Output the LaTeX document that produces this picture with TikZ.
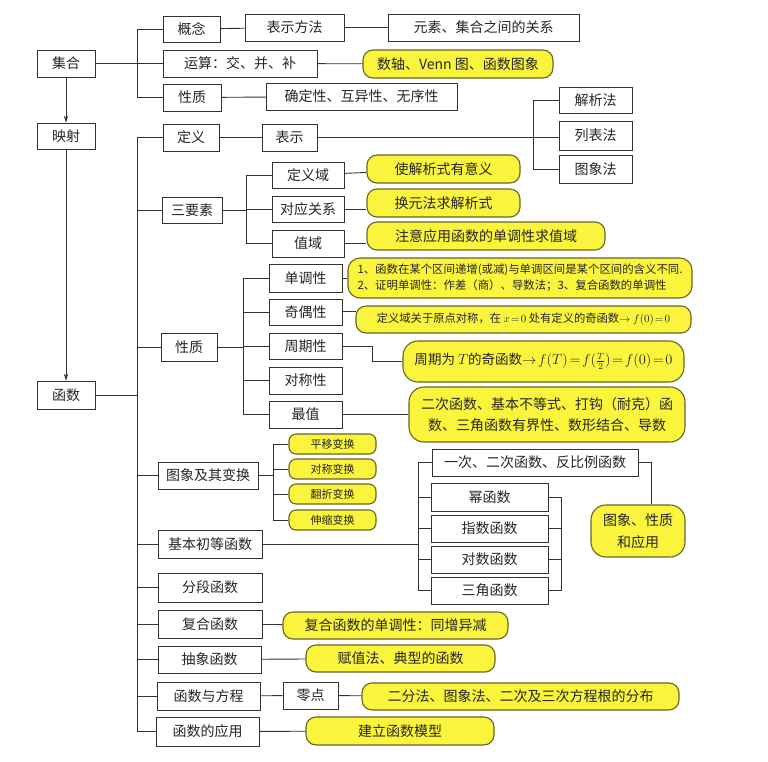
\documentclass[tikz,border=0pt]{standalone}
\usepackage{fontspec}
\setmainfont{Noto Sans CJK SC}
\usetikzlibrary{arrows.meta}
\definecolor{ylw}{RGB}{250,244,60}
\definecolor{ybd}{RGB}{105,100,40}
\definecolor{ln}{RGB}{50,50,50}
\newcommand\NB[7]{\node[#2,minimum width={#5pt-#3pt},minimum height={#6pt-#4pt}] (#1) at ({(#3+#5)/2},{(#4+#6)/2}) {#7};}
\begin{document}
\begin{tikzpicture}[x=1pt,y=-1pt,
  box/.style={draw=ln, line width=0.9pt, fill=white, inner sep=0pt, text=black!85, font=\fontsize{14}{16}\selectfont},
  ybox/.style={draw=ybd, line width=1.1pt, fill=ylw, rounded corners=10pt, inner sep=0pt, text=black!85, font=\fontsize{14}{16}\selectfont},
  ysm/.style={ybox, rounded corners=7pt, font=\fontsize{11}{13}\selectfont},
  conn/.style={draw=ln, line width=0.9pt},
  arr/.style={conn, -{Stealth[length=7pt,width=4.5pt]}}]
\fill[white] (0,0) rectangle (768,761);
\useasboundingbox (0,0) rectangle (768,761);
% left column
\NB{jh}{box}{37}{50}{95}{77}{集合}
\NB{ys}{box}{37}{123}{95}{149}{映射}
\NB{hs}{box}{37}{381}{95}{409}{函数}
% set branch
\NB{gn}{box}{163}{16}{220}{42}{概念}
\NB{ysuan}{box}{163}{50}{317}{77}{运算：交、并、补}
\NB{xz1}{box}{163}{84}{221}{111}{性质}
\NB{bsff}{box}{245}{14}{344}{41}{表示方法}
\NB{ysgx}{box}{388}{14}{579}{41}{元素、集合之间的关系}
\NB{szt}{ybox}{363}{50}{553}{78}{数轴、Venn 图、函数图象}
\NB{qdx}{box}{266}{83}{457}{110}{确定性、互异性、无序性}
% definition
\NB{dy}{box}{163}{124}{219}{151}{定义}
\NB{bs}{box}{262}{124}{317}{151}{表示}
\NB{jxf}{box}{559}{87}{632}{113}{解析法}
\NB{lbf}{box}{559}{121}{632}{150}{列表法}
\NB{txf}{box}{559}{155}{632}{183}{图象法}
% three elements
\NB{sys}{box}{162}{197}{222}{223}{三要素}
\NB{dyy}{box}{272}{162}{344}{188}{定义域}
\NB{dygx}{box}{272}{196}{344}{222}{对应关系}
\NB{zy}{box}{272}{230}{344}{257}{值域}
\NB{ya}{ybox}{367}{155}{520}{183}{使解析式有意义}
\NB{yb}{ybox}{367}{189}{520}{217}{换元法求解析式}
\NB{yc3}{ybox}{367}{222}{605}{250}{注意应用函数的单调性求值域}
% properties
\NB{xz2}{box}{161}{333}{217}{361}{性质}
\NB{ddx}{box}{269}{264}{342}{292}{单调性}
\NB{joux}{box}{269}{299}{342}{325}{奇偶性}
\NB{zqx}{box}{269}{333}{342}{359}{周期性}
\NB{dcx}{box}{269}{367}{342}{394}{对称性}
\NB{zz}{box}{269}{401}{342}{428}{最值}
\NB{yd}{ybox,align=left,rounded corners=12pt,font=\fontsize{11.4}{16}\selectfont}{348}{258}{692}{298}{1、函数在某个区间递增(或减)与单调区间是某个区间的含义不同.\\2、证明单调性：作差（商）、导数法；3、复合函数的单调性}
\NB{ye}{ybox,font=\fontsize{11.3}{13}\selectfont}{356}{306}{691}{333}{定义域关于原点对称，在 $x\!=\!0$ 处有定义的奇函数$\rightarrow f(0)\!=\!0$}
\NB{yf}{ybox,rounded corners=15pt,font=\fontsize{13.5}{16}\selectfont}{403}{341}{684}{382}{周期为 $T$的奇函数$\thickmuskip=2mu\rightarrow f(T)=f(\frac{T}{2})=f(0)=0$}
\NB{yg}{ybox,rounded corners=15pt,align=center,font=\fontsize{14}{21}\selectfont}{409}{387}{685}{442}{二次函数、基本不等式、打钩（耐克）函\\数、三角函数有界性、数形结合、导数}
% graphs
\NB{txbh}{box}{158}{462}{258}{489}{图象及其变换}
\NB{py}{ysm}{289}{434}{376}{454}{平移变换}
\NB{dc}{ysm}{289}{459}{376}{479}{对称变换}
\NB{fz}{ysm}{289}{484}{376}{504}{翻折变换}
\NB{ss}{ysm}{289}{510}{376}{530}{伸缩变换}
% elementary functions
\NB{jbcd}{box}{158}{530}{262}{558}{基本初等函数}
\NB{fd}{box}{158}{573}{262}{602}{分段函数}
\NB{yc}{box}{432}{449}{638}{476}{一次、二次函数、反比例函数}
\NB{mhs}{box}{431}{483}{548}{511}{幂函数}
\NB{zs}{box}{431}{515}{548}{542}{指数函数}
\NB{ds}{box}{431}{546}{548}{573}{对数函数}
\NB{sj}{box}{431}{577}{548}{604}{三角函数}
\NB{txzy}{ybox,align=center,rounded corners=15pt,font=\fontsize{14}{22}\selectfont}{591}{505}{685}{557}{图象、性质\\和应用}
% bottom
\NB{fh}{box}{158}{610}{262}{638}{复合函数}
\NB{cx}{box}{158}{646}{261}{673}{抽象函数}
\NB{fc}{box}{157}{682}{260}{710}{函数与方程}
\NB{ld}{box}{283}{682}{338}{709}{零点}
\NB{yy}{box}{156}{717}{259}{746}{函数的应用}
\NB{yh}{ybox}{283}{612}{508}{639}{复合函数的单调性：同增异减}
\NB{yi}{ybox}{306}{645}{495}{672}{赋值法、典型的函数}
\NB{yj}{ybox}{362}{683}{679}{710}{二分法、图象法、二次及三次方程根的分布}
\NB{yk}{ybox}{306}{717}{494}{745}{建立函数模型}
% helper coordinates
\coordinate (fb) at (137,0);
\coordinate (kb) at (418,0);
% arrows
\draw[arr] (jh) -- (ys);
\draw[arr] (ys) -- (hs);
% set connectors
\draw[conn] (gn.west) -- ++(-25,0) |- (xz1.west);
\draw[conn] (jh) -- (ysuan);
\draw[conn] (gn) -- (bsff);
\draw[conn] (bsff) -- (ysgx);
\draw[conn] (ysuan) -- (szt);
\draw[conn] (xz1) -- (qdx);
% function trunk
\draw[conn] (dy.west) -- (dy.west -| fb) |- (yy.west);
\draw[conn] (hs.east) -- (hs.east -| fb);
\foreach \n in {sys,xz2,txbh,jbcd,fd,fh,cx,fc}{\draw[conn] (\n.west) -- (\n.west -| fb);}
% definition
\draw[conn] (dy) -- (bs);
\draw[conn] (bs.east) -- (bs.east -| lbf.west);
\draw[conn] (jxf.west) -- ++(-25,0) |- (txf.west);
% three elements
\draw[conn] (dyy.west) -- ++(-25,0) |- (zy.west);
\draw[conn] (dygx.west) -- ++(-25,0);
\draw[conn] (sys.east) -- ++(25,0);
\draw[conn] (dyy) -- (ya);
\draw[conn] (dygx.east) -- (dygx.east -| yb.west);
\draw[conn] (zy.east) -- (zy.east -| yc3.west);
% properties
\draw[conn] (ddx.west) -- ++(-25,0) |- (zz.west);
\foreach \n in {joux,zqx,dcx}{\draw[conn] (\n.west) -- ++(-25,0);}
\draw[conn] (xz2.east) -- ++(27,0);
\draw[conn] (ddx.east) -- (ddx.east -| yd.west);
\draw[conn] (joux.east) ++(0,-1) -- ++(14,0);
\draw[conn] (zqx.east) -- ++(30,0) |- (yf.west);
\draw[conn] (zz) -- (yg);
% graphs
\draw[conn] (py.west) -- ++(-15,0) |- (ss.west);
\foreach \n in {dc,fz}{\draw[conn] (\n.west) -- ++(-15,0);}
\draw[conn] (txbh.east) -- ++(16,0);
% elementary
\draw[conn] (jbcd.east) -- (jbcd.east -| kb);
\draw[conn] (yc.west) -- (yc.west -| kb) |- (sj.west);
\foreach \n in {mhs,zs,ds}{\draw[conn] (\n.west) -- (\n.west -| kb);}
\draw[conn] (mhs.east) -- ++(13,0) |- (sj.east);
\foreach \n in {zs,ds}{\draw[conn] (\n.east) -- ++(13,0);}
\draw[conn] (yc.east) -| ([xshift=13pt]txzy.north);
% bottom
\draw[conn] (fh) -- (yh);
\draw[conn] (cx) -- (yi);
\draw[conn] (fc) -- (ld);
\draw[conn] (ld) -- (yj);
\draw[conn] (yy) -- (yk);
\end{tikzpicture}
\end{document}
